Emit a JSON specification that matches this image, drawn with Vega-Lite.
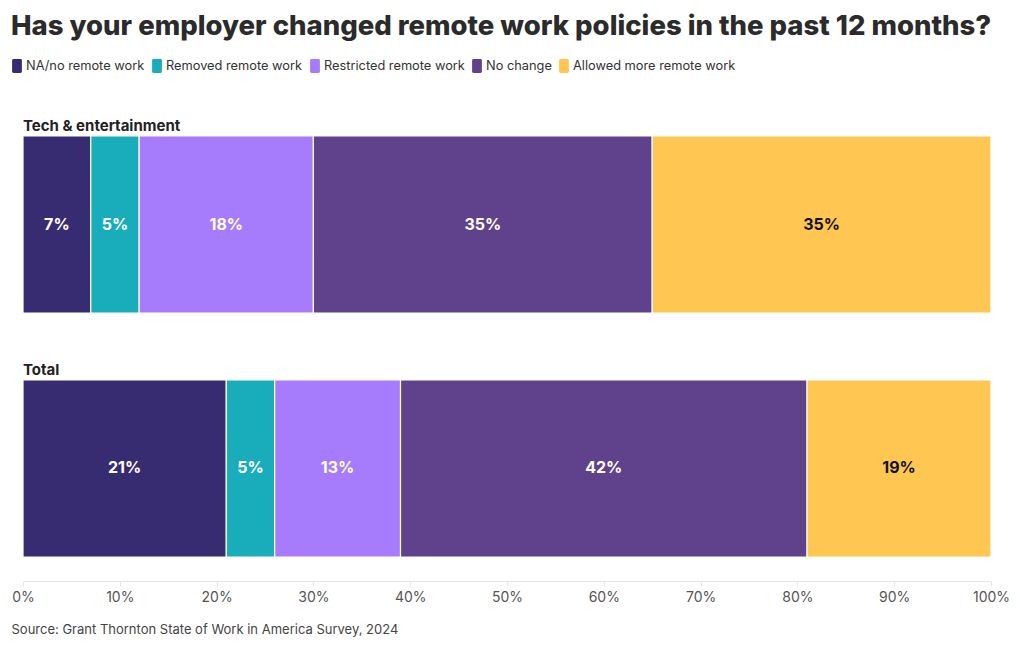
{
  "$schema": "https://vega.github.io/schema/vega-lite/v6.json",
  "autosize": {"type": "none"},
  "padding": {"left": 23, "top": 116, "right": 29, "bottom": 73},
  "width": 968,
  "height": 461,
  "background": "white",
  "title": {
    "text": "Has your employer changed remote work policies in the past 12 months?",
    "anchor": "start",
    "frame": "group",
    "font": "Inter",
    "fontSize": 27.5,
    "fontWeight": 800,
    "color": "#2b2b2b",
    "dx": -12,
    "offset": 19
  },
  "config": {
    "view": {"stroke": null},
    "font": "Inter"
  },
  "data": {
    "values": [
      {"cat": "Tech & entertainment", "response": "NA/no remote work", "pct": 0.07},
      {"cat": "Tech & entertainment", "response": "Removed remote work", "pct": 0.05},
      {"cat": "Tech & entertainment", "response": "Restricted remote work", "pct": 0.18},
      {"cat": "Tech & entertainment", "response": "No change", "pct": 0.35},
      {"cat": "Tech & entertainment", "response": "Allowed more remote work", "pct": 0.35},
      {"cat": "Total", "response": "NA/no remote work", "pct": 0.21},
      {"cat": "Total", "response": "Removed remote work", "pct": 0.05},
      {"cat": "Total", "response": "Restricted remote work", "pct": 0.13},
      {"cat": "Total", "response": "No change", "pct": 0.42},
      {"cat": "Total", "response": "Allowed more remote work", "pct": 0.19}
    ]
  },
  "transform": [
    {"window": [{"op": "row_number", "as": "k"}], "groupby": ["cat"]},
    {"stack": "pct", "groupby": ["cat"], "sort": [{"field": "k", "order": "ascending"}], "as": ["x0", "x1"]}
  ],
  "encoding": {
    "y": {
      "field": "cat",
      "type": "nominal",
      "scale": {"domain": ["Tech & entertainment", "Total"], "paddingInner": 0.2746, "paddingOuter": 0.082},
      "axis": null
    }
  },
  "layer": [
    {
      "mark": {"type": "bar", "stroke": "white", "strokeWidth": 1.2},
      "encoding": {
        "x": {
          "field": "x0",
          "type": "quantitative",
          "scale": {"domain": [0, 1], "nice": false},
          "axis": {
            "format": ".0%",
            "values": [0, 0.1, 0.2, 0.3, 0.4, 0.5, 0.6, 0.7, 0.8, 0.9, 1],
            "grid": false,
            "offset": 4,
            "domainColor": "#e6e6e6",
            "tickColor": "#e6e6e6",
            "tickSize": 5,
            "labelFont": "Inter",
            "labelFontSize": 14,
            "labelColor": "#555555",
            "labelPadding": 4,
            "labelFlush": false,
            "labelOverlap": false,
            "title": "Source: Grant Thornton State of Work in America Survey, 2024",
            "titleAnchor": "start",
            "titleAlign": "left",
            "titleX": -12,
            "titleY": 52,
            "titleBaseline": "alphabetic",
            "titleFont": "Inter",
            "titleFontSize": 13,
            "titleFontWeight": "normal",
            "titleColor": "#444444"
          }
        },
        "x2": {"field": "x1"},
        "color": {
          "field": "response",
          "type": "nominal",
          "scale": {
            "domain": ["NA/no remote work", "Removed remote work", "Restricted remote work", "No change", "Allowed more remote work"],
            "range": ["#372c72", "#19adbb", "#a67bfc", "#5f428b", "#ffc752"]
          },
          "legend": {
            "title": null,
            "orient": "none",
            "direction": "horizontal",
            "legendX": -13,
            "legendY": -57,
            "symbolType": "M-0.5,-1H0.5Q0.7,-1 0.7,-0.8V0.8Q0.7,1 0.5,1H-0.5Q-0.7,1 -0.7,0.8V-0.8Q-0.7,-1 -0.5,-1Z",
            "symbolSize": 196,
            "symbolStrokeWidth": 0,
            "labelFont": "Inter",
            "labelFontSize": 12.8,
            "labelColor": "#333333",
            "labelOffset": 2,
            "labelLimit": 0,
            "columnPadding": 5
          }
        }
      }
    },
    {
      "transform": [
        {"fold": ["x0", "x1"], "as": ["edge", "pos"]},
        {"aggregate": [{"op": "mean", "field": "pos", "as": "mid"}], "groupby": ["cat", "response", "pct"]}
      ],
      "mark": {"type": "text", "font": "Inter", "fontSize": 16, "fontWeight": "bold", "align": "center", "baseline": "middle"},
      "encoding": {
        "x": {"field": "mid", "type": "quantitative"},
        "y": {"field": "cat", "type": "nominal", "bandPosition": 0.5},
        "text": {"field": "pct", "type": "quantitative", "format": ".0%"},
        "color": {
          "condition": {"test": "datum.response === 'Allowed more remote work'", "value": "#111111"},
          "value": "white"
        }
      }
    },
    {
      "transform": [
        {"aggregate": [{"op": "count", "as": "n"}], "groupby": ["cat"]}
      ],
      "mark": {"type": "text", "font": "Inter", "fontSize": 15, "fontWeight": "bold", "align": "left", "baseline": "bottom", "dy": -2, "color": "#222222"},
      "encoding": {
        "x": {"datum": 0},
        "y": {"field": "cat", "type": "nominal", "bandPosition": 0},
        "text": {"field": "cat", "type": "nominal"}
      }
    }
  ]
}
